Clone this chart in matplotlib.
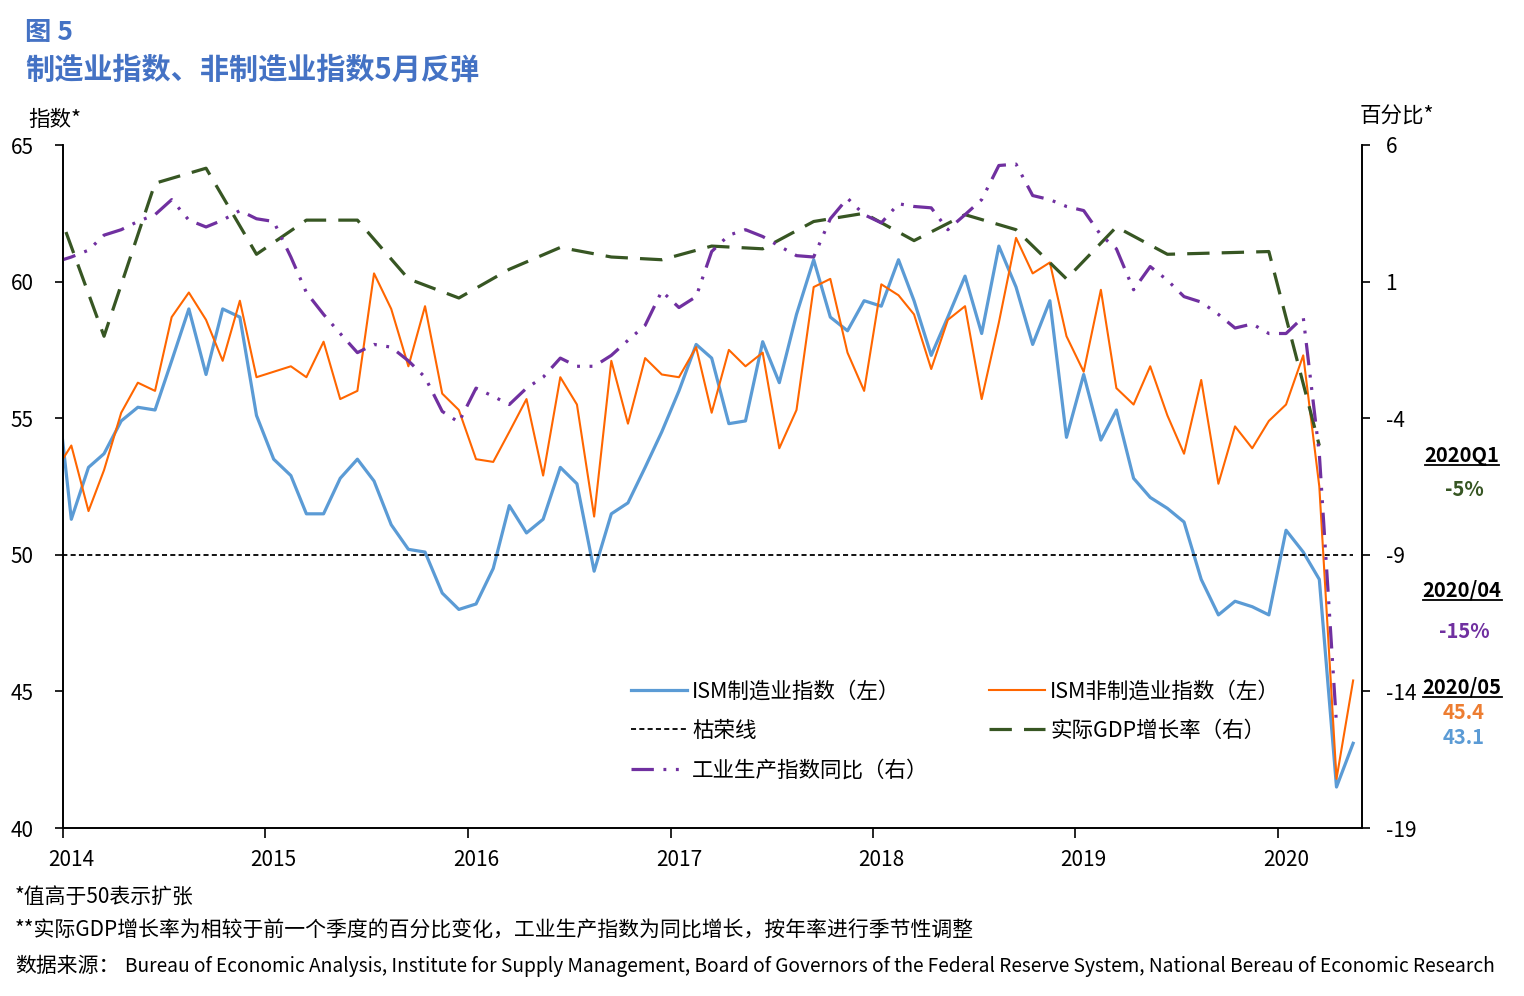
import matplotlib
matplotlib.use("Agg")
import matplotlib.pyplot as plt
import pandas as pd
from matplotlib.lines import Line2D

plt.rcParams['font.family'] = ['Noto Sans CJK SC', 'DejaVu Sans']
plt.rcParams['axes.unicode_minus'] = False

# monthly data, Dec 2013 - May 2020 (first point sits just left of the axis)
months = pd.date_range('2013-12-01', '2020-05-01', freq='MS') + pd.Timedelta(days=15)
# quarterly GDP, plotted at the last month of each quarter (2013Q4 - 2020Q1)
quarters = pd.date_range('2013-12-01', '2020-03-01', freq='3MS') + pd.Timedelta(days=15)

ism_mfg = [57.0,
           51.3, 53.2, 53.7, 54.9, 55.4, 55.3, 57.1, 59.0, 56.6, 59.0, 58.7, 55.1,
           53.5, 52.9, 51.5, 51.5, 52.8, 53.5, 52.7, 51.1, 50.2, 50.1, 48.6, 48.0,
           48.2, 49.5, 51.8, 50.8, 51.3, 53.2, 52.6, 49.4, 51.5, 51.9, 53.2, 54.5,
           56.0, 57.7, 57.2, 54.8, 54.9, 57.8, 56.3, 58.8, 60.8, 58.7, 58.2, 59.3,
           59.1, 60.8, 59.3, 57.3, 58.7, 60.2, 58.1, 61.3, 59.8, 57.7, 59.3, 54.3,
           56.6, 54.2, 55.3, 52.8, 52.1, 51.7, 51.2, 49.1, 47.8, 48.3, 48.1, 47.8,
           50.9, 50.1, 49.1, 41.5, 43.1]

ism_nonmfg = [53.0,
              54.0, 51.6, 53.1, 55.2, 56.3, 56.0, 58.7, 59.6, 58.6, 57.1, 59.3, 56.5,
              56.7, 56.9, 56.5, 57.8, 55.7, 56.0, 60.3, 59.0, 56.9, 59.1, 55.9, 55.3,
              53.5, 53.4, 54.5, 55.7, 52.9, 56.5, 55.5, 51.4, 57.1, 54.8, 57.2, 56.6,
              56.5, 57.6, 55.2, 57.5, 56.9, 57.4, 53.9, 55.3, 59.8, 60.1, 57.4, 56.0,
              59.9, 59.5, 58.8, 56.8, 58.6, 59.1, 55.7, 58.5, 61.6, 60.3, 60.7, 58.0,
              56.7, 59.7, 56.1, 55.5, 56.9, 55.1, 53.7, 56.4, 52.6, 54.7, 53.9, 54.9,
              55.5, 57.3, 52.5, 41.8, 45.4]

ip_yoy = [1.7,
          1.9, 2.15, 2.7, 2.9, 3.2, 3.45, 4.0, 3.25, 3.0, 3.25, 3.6, 3.3,
          3.2, 1.9, 0.6, -0.2, -0.9, -1.6, -1.3, -1.4, -1.9, -2.5, -3.75, -4.15,
          -2.9, -3.2, -3.5, -2.9, -2.5, -1.8, -2.1, -2.1, -1.7, -1.15, -0.6, 0.65,
          0.05, 0.45, 2.1, 2.7, 2.9, 2.65, 2.3, 1.95, 1.9, 3.3, 4.05, 3.45,
          3.15, 3.85, 3.75, 3.7, 2.9, 3.45, 4.0, 5.25, 5.3, 4.15, 4.0, 3.75,
          3.6, 2.7, 2.2, 0.7, 1.55, 1.05, 0.45, 0.25, -0.2, -0.7, -0.55, -0.9,
          -0.9, -0.3, -5.3, -15.2]

gdp_qoq = [4.0,
           -1.0, 4.6, 5.15, 2.0,
           3.25, 3.25, 1.1, 0.4,
           1.45, 2.25, 1.9, 1.8,
           2.3, 2.2, 3.2, 3.5,
           2.5, 3.45, 2.9, 1.1,
           3.0, 2.0, 2.05, 2.1,
           -5.0]

boom_bust = 50
years = list(range(2014, 2021))

BLUE = '#5B9BD5'
ORANGE = '#FF6600'
GREEN = '#375623'
PURPLE = '#7030A0'
TITLE_BLUE = '#4472C4'

W, H = 1524, 996
fig = plt.figure(figsize=(W / 100, H / 100), dpi=100)
ax = fig.add_axes([63 / W, 168 / H, 1299 / W, 683 / H])
ax2 = ax.twinx()

l_mfg, = ax.plot(months, ism_mfg, color=BLUE, lw=2.3, label='ISM制造业指数（左）')
l_50, = ax.plot([months[0], months[-1]], [boom_bust, boom_bust], color='black', lw=1.3,
                dashes=(2.8, 1.8), label='枯荣线')
l_non, = ax.plot(months, ism_nonmfg, color=ORANGE, lw=1.5, label='ISM非制造业指数（左）')
l_gdp, = ax2.plot(quarters, gdp_qoq, color=GREEN, lw=2.3, dashes=(7, 3.8),
                  label='实际GDP增长率（右）')
l_ip, = ax2.plot(months[:-1], ip_yoy, color=PURPLE, lw=2.3, dashes=(7, 3, 0.9, 3, 0.9, 3),
                 label='工业生产指数同比（右）')

ax.set_xlim(pd.Timestamp('2014-01-01'), pd.Timestamp('2020-06-01'))
ax.set_ylim(40, 65)
ax.set_yticks(range(40, 66, 5))
ax2.set_ylim(-19, 6)
ax2.set_yticks([-19, -14, -9, -4, 1, 6])

# year ticks on Jan 1, labels centred on mid-January
ax.set_xticks([pd.Timestamp(f'{y}-01-01') for y in years])
ax.set_xticklabels([])
ax.set_xticks([pd.Timestamp(f'{y}-01-16') for y in years], minor=True)
ax.set_xticklabels([str(y) for y in years], minor=True)

ax.tick_params(axis='x', which='major', length=7, width=1.2)
ax.tick_params(axis='x', which='minor', length=0, pad=15, labelsize=15)
ax.tick_params(axis='y', length=6, width=1.2, pad=15, labelsize=15)
ax2.tick_params(axis='y', length=6, width=1.2, pad=11, labelsize=15)

for a in (ax, ax2):
    a.spines['top'].set_visible(False)
    for s in ('left', 'right', 'bottom'):
        a.spines[s].set_linewidth(1.2)

fig.legend(handles=[l_mfg, l_50, l_ip, l_non, l_gdp], ncol=2, frameon=False,
           loc='upper left', bbox_to_anchor=(620 / W, 1 - 670 / H), fontsize=15.5,
           handlelength=2.6, handletextpad=0.25, columnspacing=2.8,
           labelspacing=0.8, borderpad=0)

# titles and axis captions
fig.text(25 / W, 1 - 33 / H, '图 5', color=TITLE_BLUE, fontsize=19, fontweight='bold', va='center')
fig.text(25 / W, 1 - 70 / H, '制造业指数、非制造业指数5月反弹', color=TITLE_BLUE, fontsize=21,
         fontweight='bold', va='center')
fig.text(28 / W, 1 - 120 / H, '指数*', fontsize=15.5, va='center')
fig.text(1360 / W, 1 - 117 / H, '百分比*', fontsize=15.5, va='center')

# footnotes
fig.text(15 / W, 1 - 898 / H, '*值高于50表示扩张', fontsize=15, va='center')
fig.text(15 / W, 1 - 931 / H, '**实际GDP增长率为相较于前一个季度的百分比变化，工业生产指数为同比增长，按年率进行季节性调整',
         fontsize=15, va='center')
fig.text(15 / W, 1 - 966 / H, '数据来源：', fontsize=15, va='center')
fig.text(125 / W, 1 - 966 / H, 'Bureau of Economic Analysis, Institute for Supply Management, '
         'Board of Governors of the Federal Reserve System, National Bereau of Economic Research',
         fontsize=13.8, va='center')

# right-hand callouts
headings = [('2020Q1', 455), ('2020/04', 590), ('2020/05', 687)]
values = [('-5%', 489, GREEN), ('-15%', 631, PURPLE), ('45.4', 712, '#ED7D31'), ('43.1', 738, BLUE)]
head_texts = []
for s, y in headings:
    head_texts.append(fig.text(1462 / W, 1 - y / H, s, fontsize=14.5, fontweight='bold',
                               ha='center', va='center'))
for s, y, c in values:
    fig.text(1464 / W, 1 - y / H, s, fontsize=14.5, fontweight='bold', color=c,
             ha='center', va='center')

fig.canvas.draw()
r = fig.canvas.get_renderer()
for t in head_texts:
    bb = t.get_window_extent(renderer=r)
    yl = bb.y0 + 1
    fig.add_artist(Line2D([bb.x0 / W, bb.x1 / W], [yl / H, yl / H], color='black', lw=1.3,
                          transform=fig.transFigure))

fig.savefig('out.png', dpi=100)
